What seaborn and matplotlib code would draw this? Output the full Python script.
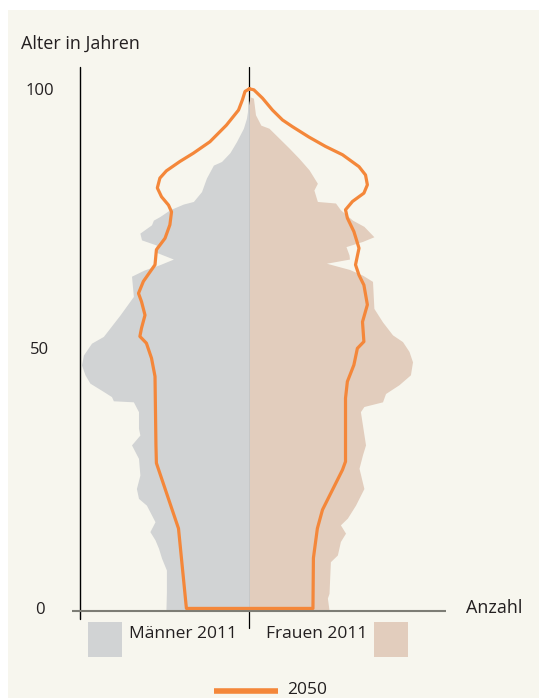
import matplotlib.pyplot as plt
import seaborn as sns
import pandas as pd
from matplotlib.patches import Rectangle
from matplotlib.lines import Line2D

# Alter in Jahren / Anzahl in Tausend
maenner_2011_alter = [0, 3.5, 7.7, 10.0, 11.9, 13.5, 15.1, 17.0, 18.3, 20.2,
                      21.5, 23.4, 26.0, 29.2, 31.8, 33.7, 35.0, 38.2, 40.1, 40.3,
                      41.1, 42.1, 43.7, 45.3, 47.2, 49.1, 51.4, 52.7, 56.8, 60.4,
                      64.3, 65.5, 66.5, 67.6, 69.0, 70.3, 71.3, 72.6, 74.2, 75.1,
                      75.8, 77.1, 78.2, 78.7, 80.6, 83.2, 85.7, 86.4, 88.1, 90.2,
                      92.8, 94.7, 97.9, 98.2]
maenner_2011 = [359, 357, 357, 378, 391, 406, 428, 406, 421, 443,
                477, 486, 471, 477, 507, 471, 477, 477, 499, 585,
                593, 628, 686, 707, 722, 714, 679, 628, 557, 499,
                507, 452, 387, 327, 406, 400, 464, 471, 421, 413,
                385, 342, 284, 241, 206, 185, 155, 120, 84, 56,
                26, 13, 2, 0]

frauen_2011_alter = [0, 2.3, 3.2, 9.3, 10.6, 13.2, 14.8, 16.4, 17.7, 20.2,
                     23.4, 27.3, 29.9, 31.8, 38.2, 39.2, 40.1, 41.7, 43.4, 45.3,
                     47.8, 49.8, 51.7, 53.0, 55.5, 58.1, 63.3, 64.5, 65.6, 66.8,
                     67.6, 68.4, 70.0, 71.0, 71.9, 73.9, 75.1, 77.1, 78.4, 78.7,
                     80.9, 82.2, 84.8, 87.0, 89.0, 90.9, 92.8, 93.4, 95.4, 98.6,
                     98.9]
frauen_2011 = [342, 335, 342, 348, 378, 391, 413, 391, 421, 456,
               492, 471, 486, 499, 477, 492, 572, 585, 643, 692,
               701, 686, 658, 615, 572, 535, 529, 486, 430, 331,
               430, 428, 415, 486, 535, 492, 443, 391, 370, 292,
               277, 292, 256, 213, 170, 127, 84, 49, 26, 17,
               0]

maenner_2050_alter = [0.3, 15.7, 28.3, 31.8, 45.0, 48.5, 51.4, 52.7, 54.3, 56.8,
                      59.4, 61.0, 63.3, 66.5, 69.4, 71.6, 74.2, 76.7, 78.0, 79.6,
                      81.3, 83.2, 84.6, 86.4, 88.0, 90.2, 93.4, 96.3, 98.3, 99.9,
                      100.4]
maenner_2050 = [271, 305, 400, 402, 406, 421, 443, 471, 464, 449,
                464, 477, 456, 406, 400, 363, 342, 335, 348, 378,
                396, 385, 357, 299, 241, 170, 99, 47, 30, 19,
                0]

frauen_2050_alter = [0.3, 10.0, 15.7, 19.3, 27.0, 28.6, 40.8, 44.0, 47.2, 50.4,
                     51.7, 55.5, 58.8, 62.6, 64.5, 66.5, 69.7, 72.9, 75.5, 77.1,
                     78.7, 80.3, 81.9, 83.8, 85.4, 87.7, 89.3, 91.1, 93.1, 94.4,
                     96.3, 98.6, 100.2, 100.4]
frauen_2050 = [273, 275, 292, 314, 400, 413, 413, 421, 449, 464,
               492, 486, 507, 492, 471, 456, 471, 449, 421, 413,
               443, 492, 507, 499, 471, 400, 327, 256, 185, 142,
               99, 56, 19, 0]

y_ticks = [0, 50, 100]

BG = "#f7f6ee"
GREY = "#d1d3d4"
BEIGE = "#e2cdbd"
ORANGE = "#f4873a"
TEXT = "#231f20"

sns.set_style("white")
plt.rcParams["font.family"] = ["Open Sans", "DejaVu Sans"]

W, H = 539, 698
fig = plt.figure(figsize=(W / 100, H / 100), dpi=100)
fig.patch.set_facecolor("white")


def fx(px):
    return px / W


def fy(py):
    return 1 - py / H


fig.add_artist(Rectangle((fx(8), 0), 1, fy(10), transform=fig.transFigure,
                         facecolor=BG, edgecolor="none", zorder=0))

ax = fig.add_axes([fx(71.5), fy(628), fx(446 - 71.5), (628 - 67) / H])
ax.axis("off")

# Achsen
ax.plot([0, 0], [-3.47, 104.6], color="black", lw=0.9, zorder=1, clip_on=False)
ax.plot([-727, -727], [-1.75, 104.6], color="black", lw=1.0, zorder=1, clip_on=False)

# Bevoelkerung 2011
ax.fill_betweenx(maenner_2011_alter, [-v for v in maenner_2011], 0,
                 color=GREY, lw=0, zorder=2)
ax.fill_betweenx(frauen_2011_alter, 0, frauen_2011,
                 color=BEIGE, lw=0, zorder=2)

ax.plot([-765, 845], [-0.2, -0.2], color="#7d7d75", lw=1.5, zorder=3,
        solid_capstyle="butt", clip_on=False)

# 2050 als geschlossene Kontur
df50 = pd.DataFrame({
    "anzahl": [-v for v in maenner_2050[::-1]] + frauen_2050,
    "alter": maenner_2050_alter[::-1] + frauen_2050_alter,
})
sns.lineplot(data=df50, x="anzahl", y="alter", sort=False, estimator=None,
             color=ORANGE, lw=2.3, ax=ax, zorder=4)
line50 = ax.get_lines()[-1]
line50.set_solid_joinstyle("round")
line50.set_clip_on(False)

ax.set_xlim(-765, 845)
ax.set_ylim(-3.47, 104.6)
ax.axis("off")

# Beschriftungen
for t in y_ticks:
    ax.text(-901, t, str(t), ha="center", va="center", fontsize=12,
            color=TEXT, clip_on=False)

fig.text(fx(21), fy(44), "Alter in Jahren", ha="left", va="center",
         fontsize=13, color=TEXT)
fig.text(fx(466), fy(608), "Anzahl", ha="left", va="center",
         fontsize=13, color=TEXT)

# Legende
fig.add_artist(Rectangle((fx(88), fy(657)), fx(34), 35 / H,
                         transform=fig.transFigure, facecolor=GREY, edgecolor="none"))
fig.add_artist(Rectangle((fx(374), fy(657)), fx(34), 35 / H,
                         transform=fig.transFigure, facecolor=BEIGE, edgecolor="none"))
fig.text(fx(129), fy(634), "Männer 2011", ha="left", va="center",
         fontsize=12.5, color=TEXT)
fig.text(fx(367), fy(634), "Frauen 2011", ha="right", va="center",
         fontsize=12.5, color=TEXT)
fig.add_artist(Line2D([fx(214), fx(278)], [fy(691), fy(691)],
                      transform=fig.transFigure, color=ORANGE, lw=4,
                      solid_capstyle="butt"))
fig.text(fx(287), fy(690), "2050", ha="left", va="center",
         fontsize=12.5, color=TEXT)

fig.savefig("out.png", dpi=100)
